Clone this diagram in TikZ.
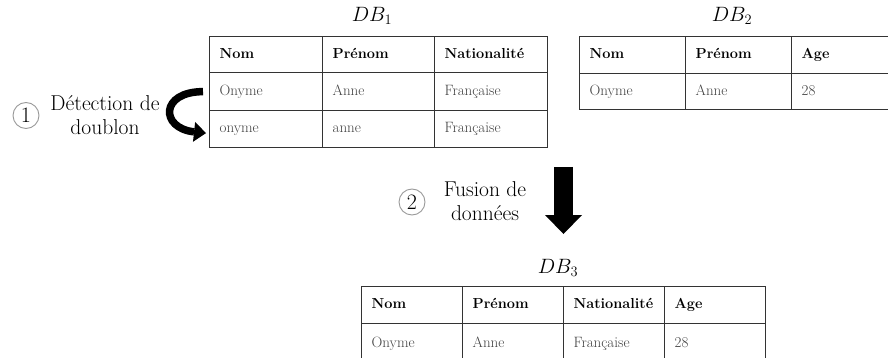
\documentclass[tikz,border=0pt]{standalone}
\usetikzlibrary{arrows.meta}
\begin{document}
\begin{tikzpicture}[x=1pt,y=-1pt,
  cell/.style={draw=black!80,line width=1.3pt,anchor=north west,inner xsep=10pt,inner ysep=0pt,
    align=left,text height=10pt,text depth=3pt},
  head/.style={cell,font=\fontsize{14.5}{16}\selectfont\bfseries,text=black},
  body/.style={cell,font=\fontsize{15}{16}\selectfont,text=black!75},
  dblabel/.style={font=\fontsize{20}{22}\selectfont},
  step label/.style={align=center,font=\fontsize{21.5}{24}\selectfont},
  stepnum/.style={circle,draw=black!40,line width=0.9pt,minimum size=26pt,inner sep=0pt,
    font=\fontsize{22}{22}\selectfont},
  bendarrow/.style={line width=7.5pt,-{Triangle[length=12pt,width=20pt,line width=0pt]}},
  mergearrow/.style={line width=19pt,-{Triangle[length=19pt,width=37pt,line width=0pt]}}]
\useasboundingbox (0,0) rectangle (888,358);

% cell: name, x, y, width, height, style, text
\newcommand\dbcell[7]{%
  \pgfmathsetmacro\cellw{#4-20}%
  \node[#6,text width=\cellw pt,minimum height=#5pt] (#1) at (#2,#3) {#7};}

% first database
\node[dblabel] (lab1) at (372,16) {$DB_1$};
\dbcell{a00}{209}{36}{113}{36}{head}{Nom}
\dbcell{a01}{322}{36}{112}{36}{head}{Prénom}
\dbcell{a02}{434}{36}{113}{36}{head}{Nationalité}
\dbcell{a10}{209}{72}{113}{38}{body}{Onyme}
\dbcell{a11}{322}{72}{112}{38}{body}{Anne}
\dbcell{a12}{434}{72}{113}{38}{body}{Française}
\dbcell{a20}{209}{110}{113}{37}{body}{onyme}
\dbcell{a21}{322}{110}{112}{37}{body}{anne}
\dbcell{a22}{434}{110}{113}{37}{body}{Française}

% second database
\node[dblabel] (lab2) at (732,16) {$DB_2$};
\dbcell{b00}{579}{36}{106}{37}{head}{Nom}
\dbcell{b01}{685}{36}{106}{37}{head}{Prénom}
\dbcell{b02}{791}{36}{110}{37}{head}{Age}
\dbcell{b10}{579}{73}{106}{36}{body}{Onyme}
\dbcell{b11}{685}{73}{106}{36}{body}{Anne}
\dbcell{b12}{791}{73}{110}{36}{body}{28}

% merged database
\node[dblabel] (lab3) at (558,268) {$DB_3$};
\dbcell{c00}{361}{286}{101}{37}{head}{Nom}
\dbcell{c01}{462}{286}{101}{37}{head}{Prénom}
\dbcell{c02}{563}{286}{101}{37}{head}{Nationalité}
\dbcell{c03}{664}{286}{101}{37}{head}{Age}
\dbcell{c10}{361}{323}{101}{40}{body}{Onyme}
\dbcell{c11}{462}{323}{101}{40}{body}{Anne}
\dbcell{c12}{563}{323}{101}{40}{body}{Française}
\dbcell{c13}{664}{323}{101}{40}{body}{28}

% step 1: duplicate detection
\node[stepnum] (n1) at (26,115.5) {1};
\node[step label] (t1) at (105,115) {Détection de\\doublon};
\draw[bendarrow] ([xshift=-6pt,yshift=0pt]a10.west)
  .. controls +(-43,0) and +(-46,-5) .. ([xshift=-3pt,yshift=-4pt]a20.west);

% step 2: data fusion
\node[stepnum] (n2) at (412,202) {2};
\node[step label] (t2) at (485,201) {Fusion de\\données};
\coordinate (mergetop) at (563.5,167);
\coordinate (mergetip) at (563.5,234);
\draw[mergearrow] (mergetop) -- (mergetip);
\end{tikzpicture}
\end{document}
